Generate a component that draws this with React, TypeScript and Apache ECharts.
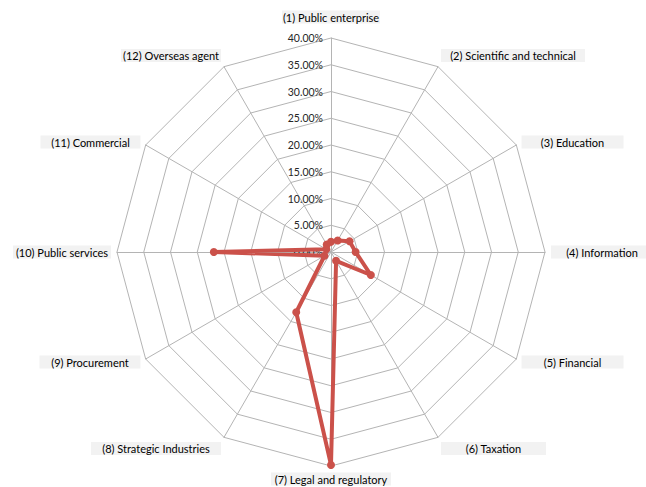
import React, { useEffect, useRef } from 'react';
import * as echarts from 'echarts';

// Indicator names (clockwise from top, as in the reference)
const categories: string[] = [
  '(1) Public enterprise',
  '(2) Scientific and technical',
  '(3) Education',
  '(4) Information',
  '(5) Financial',
  '(6) Taxation',
  '(7) Legal and regulatory',
  '(8) Strategic Industries',
  '(9) Procurement',
  '(10) Public services',
  '(11) Commercial',
  '(12) Overseas agent',
];

// Share of each category (fraction)
const shares: number[] = [0.019, 0.025, 0.04, 0.046, 0.086, 0.019, 0.398, 0.13, 0.014, 0.219, 0.01, 0.016];

// Radial axis
const axisMax = 0.4;
const tickStep = 0.05;
const tickLabels: string[] = ['0.00%', '5.00%', '10.00%', '15.00%', '20.00%', '25.00%', '30.00%', '35.00%', '40.00%'];

// Style: content widths of the grey name boxes, and vertical nudges (spacer lines)
const NAME_BOX_WIDTHS = [90, 136, 94, 94, 94, 97, 112, 122, 93, 90, 92, 92];
const SPACER_BELOW = [8, 12, 0, 0, 0, 0, 0, 0, 0, 0, 0, 12];
const SPACER_ABOVE = [0, 0, 0, 0, 0, 12, 0, 12, 0, 0, 0, 0];

const FONT = 'Lato, "Open Sans", sans-serif';
const CX = 331;
const CY = 252;
const R = 214;
const GRID = '#b4b4b4';

export default function App() {
  const ref = useRef<HTMLDivElement>(null);

  useEffect(() => {
    if (!ref.current) return;
    const chart = echarts.init(ref.current, undefined, { renderer: 'svg' });

    // ECharts places radar indicators counter-clockwise; reorder to get clockwise layout
    const order = [0, ...Array.from({ length: categories.length - 1 }, (_, k) => categories.length - 1 - k)];

    const rich: Record<string, any> = {};
    categories.forEach((_, i) => {
      rich['n' + i] = {
        width: NAME_BOX_WIDTHS[i],
        align: 'center',
        backgroundColor: '#f2f2f2',
        padding: [1, 4],
        lineHeight: 14,
        fontSize: 11,
        fontFamily: FONT,
        color: '#000000',
      };
    });
    [8, 12].forEach((h) => {
      rich['sp' + h] = { fontSize: 1, lineHeight: h, height: h };
    });

    const nameFormatter = (name: string) => {
      const i = categories.indexOf(name);
      let s = `{n${i}|${name}}`;
      if (SPACER_BELOW[i]) s = s + `\n{sp${SPACER_BELOW[i]}| }`;
      if (SPACER_ABOVE[i]) s = `{sp${SPACER_ABOVE[i]}| }\n` + s;
      return s;
    };

    chart.setOption({
      animation: false,
      backgroundColor: '#ffffff',
      radar: {
        center: [CX, CY],
        radius: R,
        startAngle: 90,
        splitNumber: Math.round(axisMax / tickStep),
        shape: 'polygon',
        nameGap: 6,
        indicator: order.map((i) => ({ name: categories[i], min: 0, max: axisMax })),
        axisName: {
          formatter: nameFormatter,
          rich,
        },
        splitLine: { lineStyle: { color: GRID, width: 1 } },
        splitArea: { show: false },
        axisLine: { lineStyle: { color: GRID, width: 1 } },
        axisTick: { show: false },
        axisLabel: { show: false },
      },
      polar: { center: [CX, CY], radius: R },
      angleAxis: {
        type: 'value',
        min: 0,
        max: 360,
        startAngle: 90,
        show: false,
      },
      radiusAxis: {
        type: 'value',
        min: 0,
        max: axisMax,
        interval: tickStep,
        axisLine: { show: false },
        axisTick: { show: false },
        splitLine: { show: false },
        axisLabel: {
          margin: 8,
          fontSize: 10.5,
          fontFamily: FONT,
          color: '#262626',
          formatter: (_v: number, idx: number) => tickLabels[idx] ?? '',
        },
        z: 1,
      },
      series: [
        {
          type: 'radar',
          z: 3,
          symbol: 'circle',
          symbolSize: 8,
          lineStyle: { color: '#cb514a', width: 4 },
          itemStyle: { color: '#cb514a' },
          data: [{ value: order.map((i) => shares[i]), name: 'Share' }],
        },
      ],
    });

    return () => chart.dispose();
  }, []);

  return (
    <div
      ref={ref}
      style={{ position: 'absolute', left: 0, top: 0, width: 646, height: 487 }}
    />
  );
}
